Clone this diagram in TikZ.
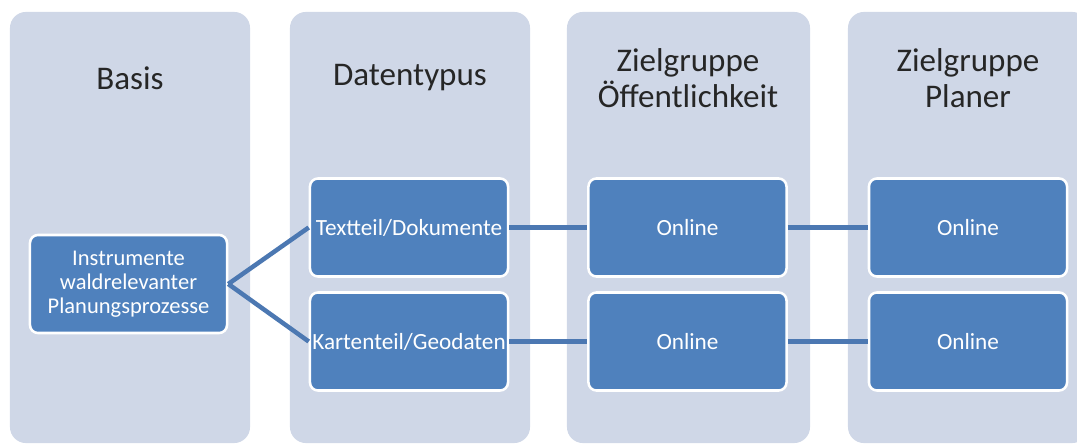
\documentclass[tikz,border=0pt]{standalone}
\usepackage{fontspec}
\setmainfont{Carlito}
\definecolor{colbg}{HTML}{CFD7E7}
\definecolor{boxblue}{HTML}{4F81BD}
\definecolor{linkblue}{HTML}{4C78B2}
\begin{document}
\begin{tikzpicture}[x=0.025cm,y=-0.025cm,
  column/.style={fill=colbg,draw=none,rounded corners=0.4cm,minimum height=10.775cm,inner sep=0pt},
  head/.style={font=\fontsize{23.5}{26}\selectfont,text=black!85,align=center,inner sep=0pt},
  item/.style={fill=boxblue,draw=white,line width=1.8pt,rounded corners=0.2cm,minimum height=2.45cm,minimum width=4.95cm,inner sep=0pt,text=white,font=\fontsize{16.5}{17}\selectfont,align=center},
  link/.style={draw=linkblue,line width=3.2pt}]
\useasboundingbox (0,0) rectangle (1077,445);
\node[column,minimum width=6cm] (c1) at (130,227.5) {};
\node[column,minimum width=6cm] (c2) at (410,227.5) {};
\node[column,minimum width=6.075cm] (c3) at (688.5,227.5) {};
\node[column,minimum width=6cm] (c4) at (968,227.5) {};
\node[head] (h1) at (130,78) {Basis};
\node[head] (h2) at (410,78) {Datentypus};
\node[head] (h3) at (688,78) {Zielgruppe\\Öffentlichkeit};
\node[head] (h4) at (968,78) {Zielgruppe\\Planer};
\node[item,minimum width=4.925cm,font=\fontsize{16}{17}\selectfont] (b) at (128.5,284) {Instrumente\\waldrelevanter\\Planungsprozesse};
\node[item] (t) at (409,227.5) {Textteil/Dokumente};
\node[item] (k) at (409,341.5) {Kartenteil/Geodaten};
\node[item] (o1) at (687.5,227.5) {Online};
\node[item] (o2) at (687.5,341.5) {Online};
\node[item] (p1) at (968,227.5) {Online};
\node[item] (p2) at (968,341.5) {Online};
\draw[link] (b.east) -- (t.west);
\draw[link] (b.east) -- (k.west);
\draw[link] (t.east) -- (o1.west);
\draw[link] (k.east) -- (o2.west);
\draw[link] (o1.east) -- (p1.west);
\draw[link] (o2.east) -- (p2.west);
\end{tikzpicture}
\end{document}
